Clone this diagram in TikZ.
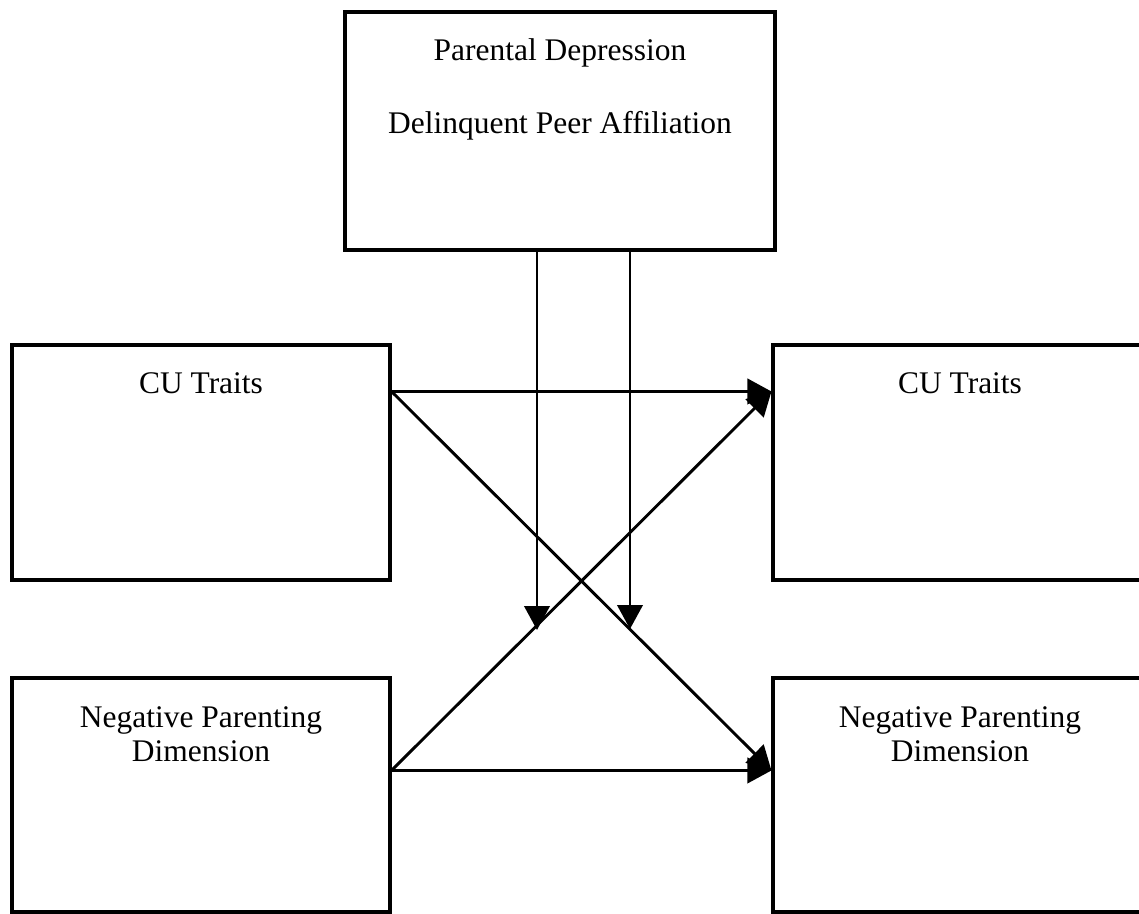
\documentclass[tikz,border=0pt]{standalone}
\usepackage{fontspec}
\setmainfont{Liberation Serif}
\usetikzlibrary{arrows.meta,positioning}
\tikzstyle{box} = [rectangle,draw,line width=2.3pt,inner sep=0pt]
\tikzstyle{lbl} = [font=\fontsize{23.6}{25.5}\selectfont,inner sep=0pt,align=center,anchor=base]
\tikzstyle{arr} = [line width=2.2pt,-{Triangle[length=18pt,width=19pt]}]

\begin{document}
\begin{tikzpicture}[x=0.75pt,y=-0.75pt]
		\useasboundingbox (0,0) rectangle (1139,914);
		\node [box,minimum width=322.5pt,minimum height=178.5pt](top) at (560,131){};
		\node [box,minimum width=283.5pt,minimum height=176.25pt](lt) at (201,462.5){};
		\node [box,minimum width=280.5pt,minimum height=176.25pt](rt) at (960,462.5){};
		\node [box,minimum width=283.5pt,minimum height=175.5pt](lb) at (201,795){};
		\node [box,minimum width=280.5pt,minimum height=175.5pt](rb) at (960,795){};

		\node [lbl](pd) at (560,60){Parental Depression};
		\node [lbl](dpa) at (560,133){Delinquent Peer Affiliation};
		\node [lbl](cul) at (201,393){CU Traits};
		\node [lbl](cur) at (960,393){CU Traits};
		\node [lbl](npl) at (201,761){Negative Parenting\\Dimension};
		\node [lbl](npr) at (960,761){Negative Parenting\\Dimension};

		\coordinate (cu1) at ([yshift=-36pt]lt.north east);
		\coordinate (np1) at ([yshift=-70.5pt]lb.north east);
		\coordinate (cu2) at ([yshift=-36pt]rt.north west);
		\coordinate (np2) at ([yshift=-70.5pt]rb.north west);
		\coordinate (d1) at ([xshift=-17.25pt]top.south);
		\coordinate (d2) at ([xshift=52.5pt]top.south);
		\coordinate (m1) at (537,630);
		\coordinate (m2) at (630,629);

		\draw[arr](cu1)--(cu2);
		\draw[arr](cu1)--(np2);
		\draw[arr](np1)--(np2);
		\draw[arr](np1)--(cu2);
		\draw[arr](d1)--(m1);
		\draw[arr](d2)--(m2);
		\end{tikzpicture}
\end{document}
